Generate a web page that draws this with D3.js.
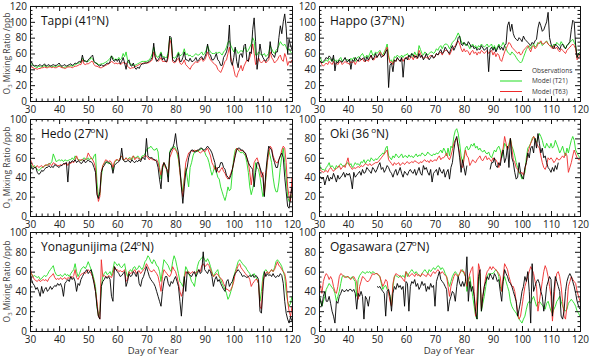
<!DOCTYPE html>
<html>
<head>
<meta charset="utf-8">
<script src="https://cdn.jsdelivr.net/npm/d3@7"></script>
<style>
body{margin:0;background:#fff;}
text{font-family:"Open Sans",sans-serif;}
</style>
</head>
<body>
<script>
// day of year, every half day from 30 to 120
var days = d3.range(30, 120.5, 0.5);
var xTicks = [30,40,50,60,70,80,90,100,110,120];
var yTicks120 = [0,20,40,60,80,100,120];
var yTicks100 = [0,20,40,60,80,100];

var stations = ["Tappi","Happo","Hedo","Oki","Yonagunijima","Ogasawara"];
var lats = ["41","37","27","36 ","24","27"];
var yMax = [120,120,100,100,100,100];
var seriesNames = ["Observations","Model (T21)","Model (T63)"];

var tappiObs = [
52,49,46,44,45,44,45,46,44,45,47,44,45,46,44,45,46,45,45,46,
48,45,44,45,46,44,45,46,47,45,46,48,47,49,50,49,58,50,51,49,
52,54,56,58,50,48,47,45,44,46,44,45,46,48,47,50,57,52,50,53,
50,53,47,50,55,48,40,50,52,45,44,48,42,40,43,41,45,47,47,48,
48,49,50,52,55,73,55,50,52,55,60,52,55,50,50,60,82,80,52,50,
50,55,60,50,50,55,62,52,52,50,54,50,50,52,55,50,52,55,56,52,
55,60,72,60,58,52,52,55,60,52,50,45,45,55,58,62,70,96,50,45,
55,68,50,42,58,60,55,70,72,52,50,62,60,90,105,75,40,55,72,60,
55,52,50,54,55,75,60,58,55,62,62,80,95,85,100,110,92,60,78,70,
65];
var tappiT21 = [
46,47,45,44,43,42,44,43,43,44,45,43,43,44,44,43,44,43,44,44,
45,44,43,42,43,43,44,44,45,44,45,46,47,48,48,49,54,52,50,50,
50,52,55,53,50,48,48,46,46,47,47,48,49,50,52,54,57,55,52,53,
52,55,52,54,60,56,62,52,48,47,46,45,45,46,47,48,49,50,50,50,
50,51,52,55,60,68,60,56,55,58,62,56,56,55,55,62,80,78,56,54,
55,58,62,57,58,60,66,58,60,57,58,56,56,58,60,58,58,60,62,58,
60,64,70,65,62,60,60,60,62,60,62,60,58,62,64,68,74,76,70,66,
62,66,64,60,62,64,62,66,68,62,64,68,72,80,76,58,58,62,60,58,
58,60,56,58,60,70,66,62,60,64,66,70,75,72,70,72,68,64,66,62,
60];
var tappiT63 = [
44,43,42,41,41,40,41,41,42,42,43,42,42,43,43,42,43,42,42,43,
44,43,42,42,41,42,43,43,43,42,43,44,44,45,46,46,52,47,46,47,
47,48,50,50,46,44,44,43,42,42,43,44,45,46,47,48,50,49,47,48,
47,48,46,47,49,47,48,44,42,41,42,42,43,44,45,46,47,47,48,48,
48,48,49,50,52,62,56,52,50,52,55,50,50,50,49,55,78,72,50,48,
49,52,54,48,46,48,52,46,44,42,40,44,46,48,50,48,50,52,54,50,
52,56,62,56,52,50,48,46,45,40,38,36,40,45,50,52,60,68,55,48,
40,32,30,36,40,45,38,44,48,52,50,55,62,72,60,46,48,55,50,48,
50,52,48,50,52,62,55,52,48,50,52,56,58,52,50,60,55,45,50,48,
52];

var happoObs = [
52,50,48,50,52,55,53,57,55,50,58,38,50,48,52,50,49,52,55,50,
50,53,40,52,50,55,52,50,55,52,53,55,50,56,52,55,58,52,55,60,
55,58,60,55,57,58,62,65,17,45,48,37,52,50,55,52,50,55,30,52,
55,52,58,55,60,58,55,57,54,60,55,58,52,55,60,55,52,55,58,54,
56,60,58,62,65,60,62,68,65,62,60,66,70,64,68,72,80,82,72,70,
74,72,70,75,72,68,70,66,68,64,66,65,70,67,64,66,68,37,65,68,
64,68,62,66,70,65,68,64,70,72,95,100,88,97,85,80,78,76,80,78,
75,82,78,76,74,72,70,74,72,76,78,92,100,95,88,90,95,100,112,80,
72,68,66,72,70,68,65,70,72,68,66,70,72,75,90,102,100,70,55,60,
58];
var happoT21 = [
58,54,50,48,50,52,50,54,52,50,54,50,52,50,53,55,50,52,54,52,
52,50,54,52,55,50,54,56,55,58,60,56,55,58,55,60,64,58,58,62,
60,62,64,60,58,62,66,72,58,50,52,48,56,55,58,56,55,58,55,58,
58,60,56,58,60,56,62,58,58,70,65,60,58,62,60,58,60,62,62,60,
62,66,64,68,70,66,70,72,72,70,66,70,74,76,78,82,86,82,76,72,
74,70,72,70,66,70,72,68,70,66,70,68,72,70,68,70,72,68,70,72,
66,70,64,68,72,68,70,74,70,66,62,60,58,62,60,58,55,52,50,48,
50,55,60,65,68,70,66,70,72,68,70,74,72,75,70,72,74,76,72,70,
70,68,72,70,74,72,70,75,72,70,66,70,72,74,76,78,74,70,55,60,
62];
var happoT63 = [
52,50,46,44,46,48,46,50,48,46,50,46,48,46,49,50,46,48,50,48,
48,46,50,48,50,46,50,52,50,52,54,50,50,52,50,54,58,52,52,56,
55,58,62,60,56,58,64,68,55,48,50,46,52,50,54,52,50,54,50,54,
54,56,52,54,56,52,58,54,54,64,60,55,54,56,55,54,56,58,56,55,
56,60,58,60,62,58,62,64,64,62,58,62,66,68,70,74,76,72,66,62,
66,62,64,62,58,62,64,60,62,58,62,60,64,62,60,62,64,60,62,64,
58,62,56,60,58,52,50,56,62,66,70,74,72,68,66,64,62,60,62,58,
60,64,66,68,70,66,62,68,70,66,68,72,74,76,72,72,74,75,72,70,
68,66,70,66,68,64,62,66,64,62,60,64,66,68,70,72,70,66,52,55,
58];

var hedoObs = [
55,50,48,50,50,45,43,44,47,46,48,50,50,52,50,51,50,53,52,51,
50,52,52,54,54,55,35,56,55,57,56,58,55,57,56,54,55,58,55,56,
58,56,56,54,50,45,22,18,25,45,50,52,55,56,55,54,52,44,52,54,
55,56,58,70,58,56,56,57,57,55,58,56,55,57,56,58,56,60,60,58,
80,62,60,60,60,58,58,56,50,38,28,50,55,52,48,35,65,68,70,75,
85,72,65,50,30,13,30,45,50,60,65,68,68,66,66,68,68,70,70,68,
68,70,72,70,68,65,60,55,45,50,50,55,55,50,48,42,40,38,42,48,
55,62,68,70,70,68,68,66,65,60,55,52,50,48,30,45,55,55,50,45,
42,20,45,60,72,70,68,60,55,50,50,58,62,65,60,40,25,10,8,20,
30];
var hedoT21 = [
56,52,50,52,50,48,47,48,50,50,52,52,53,54,54,56,64,60,56,57,
58,57,58,56,58,57,57,58,58,60,58,62,60,58,58,57,58,60,59,58,
60,58,60,58,62,64,35,20,22,40,52,54,56,55,54,55,53,47,55,57,
58,57,60,62,58,58,60,58,60,60,58,62,60,60,62,60,58,62,62,64,
68,70,70,72,70,68,68,70,66,50,38,48,55,52,48,40,66,70,70,72,
70,65,58,45,35,25,38,50,40,30,50,55,62,66,68,66,68,68,70,68,
66,62,60,55,48,42,46,52,46,40,38,30,25,20,16,22,30,26,28,45,
60,68,70,68,66,65,66,64,62,55,45,30,22,28,35,55,50,48,40,30,
20,25,38,55,68,62,55,40,30,25,25,35,50,62,70,55,40,20,15,18,
22];
var hedoT63 = [
60,55,52,50,50,52,50,51,52,50,52,53,52,54,53,52,55,54,53,52,
52,53,52,54,53,55,52,55,54,56,55,58,62,58,57,58,58,57,58,60,
65,62,60,58,55,50,25,15,20,45,52,55,58,57,56,57,55,50,56,58,
58,57,60,62,58,58,60,58,59,58,60,62,58,60,60,59,58,60,61,62,
62,60,58,60,58,58,57,58,55,48,42,52,55,50,48,44,60,64,68,70,
68,66,62,45,30,20,38,55,60,65,66,68,66,68,67,68,66,65,66,68,
66,68,70,66,62,55,52,48,50,46,45,48,50,46,44,40,38,40,44,48,
55,64,70,68,68,67,68,66,64,60,55,45,32,45,55,58,60,55,48,40,
45,22,40,55,65,72,70,62,58,55,55,58,62,68,72,70,55,30,20,15,
40];

var okiObs = [
42,40,38,40,32,38,42,36,40,38,44,40,35,42,38,40,42,45,40,44,
42,44,38,28,45,40,42,44,46,42,48,44,45,50,48,46,44,50,48,45,
48,52,55,48,50,45,48,52,50,46,44,40,45,48,42,46,50,44,40,46,
44,42,46,48,45,44,48,42,46,50,44,42,52,48,50,45,42,48,35,44,
46,48,42,50,46,44,48,40,45,48,38,50,55,68,78,82,72,60,45,58,
50,42,52,null,null,null,null,null,null,null,null,null,null,null,null,null,null,null,48,55,
55,60,52,50,55,52,62,68,55,60,72,50,80,60,55,45,38,40,55,45,
40,38,50,55,65,60,70,72,65,80,70,85,75,65,70,60,62,55,50,48,
45,50,46,52,48,55,null,null,null,null,null,null,null,null,null,null,null,null,null,null,
null];
var okiT21 = [
56,50,48,48,47,50,52,55,50,52,50,48,52,50,52,54,52,51,53,54,
55,52,54,50,52,55,53,54,52,56,55,58,54,57,58,56,60,58,57,59,
58,60,62,63,65,64,70,72,62,60,58,62,60,64,62,60,62,64,60,62,
62,60,63,61,62,60,62,64,61,63,62,65,64,62,63,66,64,63,62,64,
63,65,64,66,68,65,70,67,62,70,62,72,70,82,88,90,85,75,62,55,
62,70,72,68,70,74,72,75,70,72,68,70,67,66,68,65,64,66,62,60,
64,68,66,70,72,68,60,65,75,72,70,74,80,72,68,62,55,50,45,42,
38,42,45,60,70,72,75,80,82,78,76,80,85,82,78,72,70,75,72,70,
75,70,72,78,74,70,65,68,72,66,62,70,65,72,78,82,78,68,65,62,
60];
var okiT63 = [
50,47,46,45,46,47,45,48,50,48,46,48,49,50,52,48,50,52,50,55,
60,52,50,48,50,49,50,51,50,52,51,52,54,53,52,54,52,53,54,55,
55,56,58,60,62,64,66,68,58,56,54,52,55,53,54,55,52,54,55,53,
55,56,54,55,56,55,57,56,55,54,56,55,57,58,56,57,55,58,56,57,
58,57,60,62,58,60,60,62,65,60,58,62,68,75,78,80,72,65,52,50,
58,68,62,60,52,55,58,56,55,58,60,62,58,57,60,62,58,60,58,56,
60,58,58,55,50,56,65,70,82,75,68,72,80,70,58,55,50,48,45,44,
45,42,48,55,65,70,75,78,82,80,75,72,70,62,55,50,48,52,60,58,
60,58,55,57,60,58,58,60,62,60,65,62,45,50,55,62,68,64,60,58,
58];

var yonaObs = [
60,52,48,46,42,44,40,35,45,38,42,44,40,42,45,42,44,46,45,48,
46,48,44,35,48,50,52,50,55,52,54,50,40,48,46,52,55,58,60,62,
58,60,62,55,48,40,25,15,12,45,50,52,55,53,55,52,35,30,65,62,
60,58,55,56,58,60,45,50,58,55,56,60,58,55,60,48,45,52,55,60,
65,60,55,52,50,48,45,40,35,30,25,40,50,55,55,48,45,50,48,52,
55,50,45,30,15,35,55,40,60,58,56,55,58,60,55,58,62,58,60,80,
62,60,58,62,60,55,45,52,55,50,52,48,45,42,40,50,52,45,48,50,
55,58,60,62,60,58,55,56,55,54,55,56,55,57,54,56,55,52,20,18,
40,60,55,58,56,57,55,58,55,54,56,55,58,56,48,30,18,12,8,14,
10];
var yonaT21 = [
60,58,55,56,55,54,55,52,53,55,56,55,57,60,62,64,66,60,57,56,
56,57,55,56,58,56,57,55,58,60,62,68,60,55,58,62,64,65,63,66,
70,66,62,58,52,45,25,15,20,45,55,58,60,57,58,60,56,62,70,68,
66,68,65,64,66,68,60,55,60,62,60,64,65,62,63,66,64,62,65,70,
72,76,74,70,68,72,70,66,65,60,50,62,72,70,68,66,62,60,70,76,
72,65,58,50,48,45,55,65,62,58,55,50,48,45,55,65,70,72,74,75,
72,70,73,70,65,60,55,58,60,62,55,52,48,45,42,38,32,35,40,45,
55,60,65,70,72,70,68,66,65,62,60,58,55,56,58,55,52,48,30,40,
55,60,62,60,58,60,62,60,64,70,72,70,68,65,60,55,40,30,25,28,
35];
var yonaT63 = [
65,58,55,52,51,50,52,50,51,52,51,52,50,53,55,56,58,54,52,53,
52,54,52,53,54,52,54,53,55,54,56,62,54,52,55,57,58,59,58,60,
62,60,58,55,50,40,30,15,12,72,55,56,55,54,56,55,54,58,65,62,
62,60,61,60,60,62,50,52,60,58,59,60,62,58,60,61,58,60,62,64,
68,65,62,60,60,62,60,58,55,48,40,55,62,60,58,56,55,58,65,62,
60,55,48,40,35,40,52,60,58,60,58,59,60,58,59,60,62,60,66,68,
65,66,68,66,62,58,55,56,58,57,55,53,52,48,45,42,42,40,42,45,
50,58,62,66,68,64,62,60,58,56,55,52,45,48,50,52,52,48,25,22,
50,55,58,60,58,60,62,60,62,66,70,66,65,62,60,58,50,30,20,15,
25];

var ogaObs = [
35,32,25,35,40,30,30,35,28,20,15,8,30,28,35,38,42,40,40,42,
40,42,42,40,42,38,22,38,35,40,35,12,35,32,25,35,null,null,null,null,
45,44,45,42,40,38,15,40,42,35,20,38,45,42,48,44,46,42,45,25,
50,48,20,45,50,48,52,45,48,42,45,50,46,48,40,45,42,48,44,46,
25,50,55,60,52,50,48,45,42,20,30,35,40,38,30,45,55,48,45,50,
45,50,75,30,50,40,45,35,20,12,55,62,20,35,45,50,55,52,58,55,
52,58,55,50,52,40,30,50,62,58,55,50,48,45,40,35,30,15,22,30,
40,45,55,50,60,40,8,68,40,45,50,52,48,40,35,20,30,45,50,55,
52,15,40,55,50,45,40,15,12,20,40,50,55,58,55,50,45,38,30,25,
22];
var ogaT21 = [
40,30,25,30,35,42,45,48,46,44,42,38,30,35,40,48,55,56,55,54,
55,54,53,55,52,50,35,52,56,58,60,59,58,60,59,60,58,60,59,58,
58,56,55,48,42,45,46,42,40,35,25,45,55,56,55,54,56,55,56,54,
60,55,58,60,62,60,58,60,58,56,55,58,60,62,60,58,62,60,62,64,
62,64,66,65,62,64,62,58,55,50,45,50,55,58,60,58,55,58,60,62,
58,55,40,50,55,45,35,25,15,12,50,58,20,28,35,45,55,58,57,58,
58,60,62,60,55,45,40,50,55,50,45,40,30,25,22,20,18,15,12,10,
8,12,15,22,28,30,28,32,35,30,25,28,30,28,26,24,22,28,30,25,
20,18,22,25,30,32,35,30,25,22,20,22,28,30,32,30,28,25,20,18,
15];
var ogaT63 = [
50,45,38,50,55,58,56,52,55,52,45,40,38,45,55,58,57,55,54,55,
55,53,52,54,55,52,50,32,45,50,55,54,52,50,50,52,55,58,57,58,
58,57,55,50,45,48,52,50,38,30,25,48,55,58,57,56,55,54,52,50,
60,58,55,56,58,57,55,58,56,57,55,58,57,56,55,58,57,55,58,60,
58,60,62,60,58,60,58,56,55,45,35,45,50,55,58,56,55,58,62,60,
60,55,45,52,58,62,65,40,15,35,68,62,22,35,45,55,60,62,65,62,
65,63,62,60,58,55,40,55,68,65,62,55,50,45,45,40,30,20,12,15,
25,35,45,50,55,60,65,62,58,50,45,20,30,40,50,60,66,62,55,45,
35,10,30,50,58,60,55,45,30,15,12,25,45,50,55,52,50,48,40,35,
30];

var obsData = [tappiObs, happoObs, hedoObs, okiObs, yonaObs, ogaObs];
var t21Data = [tappiT21, happoT21, hedoT21, okiT21, yonaT21, ogaT21];
var t63Data = [tappiT63, happoT63, hedoT63, okiT63, yonaT63, ogaT63];

var colors = {obs: "#000000", t21: "#22dd22", t63: "#ee2a2a"};

var svg = d3.select("body")
    .append("svg")
    .attr("width", 594)
    .attr("height", 359)
    .style("display", "block");

// panel boxes
var cols = [{left: 30, width: 262}, {left: 319, width: 261}];
var rows = [{top: 6, height: 95}, {top: 119, height: 97}, {top: 232, height: 99}];

stations.forEach(function(name, i) {
    var c = cols[i % 2], r = rows[Math.floor(i / 2)];
    var w = c.width, h = r.height;
    var g = svg.append("g").attr("transform", "translate(" + c.left + "," + r.top + ")");

    var x = d3.scaleLinear().domain([30, 120]).range([0, w]);
    var y = d3.scaleLinear().domain([0, yMax[i]]).range([h, 0]);
    var yTicks = yMax[i] === 120 ? yTicks120 : yTicks100;
    var xMinor = d3.range(30, 121, 2).filter(function(d) { return d % 10 !== 0; });
    var yMinor = d3.range(0, yMax[i] + 1, 5).filter(function(d) { return d % 20 !== 0; });

    g.append("clipPath").attr("id", "clip" + i)
        .append("rect").attr("width", w).attr("height", h);

    var line = d3.line()
        .defined(function(d) { return d[1] != null; })
        .x(function(d) { return x(d[0]); })
        .y(function(d) { return y(d[1]); });

    [[t21Data[i], colors.t21], [t63Data[i], colors.t63], [obsData[i], colors.obs]].forEach(function(s) {
        var pts = days.map(function(d, k) { return [d, s[0][k]]; });
        g.append("path")
            .datum(pts)
            .attr("clip-path", "url(#clip" + i + ")")
            .attr("fill", "none")
            .attr("stroke", s[1])
            .attr("stroke-width", 0.9)
            .attr("stroke-linejoin", "round")
            .attr("d", line);
    });

    // axes, ticks pointing inward on all four sides
    function axisPart(axis, tr, labels) {
        var a = g.append("g").attr("transform", tr).call(axis);
        a.select(".domain").remove();
        a.selectAll("line").attr("stroke", "#111");
        a.selectAll("text").attr("fill", "#222").style("font-size", "10px");
        if (!labels) a.selectAll("text").remove();
        return a;
    }
    axisPart(d3.axisBottom(x).tickValues(xTicks).tickSize(-5).tickPadding(5), "translate(0," + h + ")", true);
    axisPart(d3.axisBottom(x).tickValues(xMinor).tickSize(-2.5), "translate(0," + h + ")", false);
    axisPart(d3.axisTop(x).tickValues(xTicks).tickSize(-5), "", false);
    axisPart(d3.axisTop(x).tickValues(xMinor).tickSize(-2.5), "", false);
    axisPart(d3.axisLeft(y).tickValues(yTicks).tickSize(-5).tickPadding(3), "", true);
    axisPart(d3.axisLeft(y).tickValues(yMinor).tickSize(-2.5), "", false);
    axisPart(d3.axisRight(y).tickValues(yTicks).tickSize(-5), "translate(" + w + ",0)", false);
    axisPart(d3.axisRight(y).tickValues(yMinor).tickSize(-2.5), "translate(" + w + ",0)", false);

    g.append("rect")
        .attr("x", 0.5).attr("y", 0.5)
        .attr("width", w).attr("height", h)
        .attr("fill", "none").attr("stroke", "#111").attr("stroke-width", 1);

    // station title
    var t = g.append("text").attr("x", 11).attr("y", 18.5)
        .style("font-size", "12px").attr("fill", "#111");
    t.append("tspan").text(name + " (" + lats[i]);
    t.append("tspan").attr("dy", -5).attr("dx", -1).style("font-size", "8px").text("o");
    t.append("tspan").attr("dy", 5).text("N)");

    if (i % 2 === 0) {
        var yl = svg.append("text")
            .attr("transform", "translate(10," + (r.top + h / 2) + ") rotate(-90)")
            .attr("text-anchor", "middle")
            .attr("fill", "#444")
            .style("font-size", "8.5px");
        yl.append("tspan").text("O");
        yl.append("tspan").attr("dy", 2).style("font-size", "6px").text("3");
        yl.append("tspan").attr("dy", -2).text(" Mixing Ratio /ppb");
    }
    if (i >= 4) {
        svg.append("text")
            .attr("x", i === 4 ? 153 : 449).attr("y", 354)
            .attr("text-anchor", "middle")
            .attr("fill", "#333")
            .style("font-size", "9.5px")
            .text("Day of Year");
    }
    if (i === 1) {
        var lg = g.append("g");
        [colors.obs, colors.t21, colors.t63].forEach(function(col, k) {
            var ly = 64.5 + k * 10.5;
            lg.append("line").attr("x1", 181).attr("x2", 203)
                .attr("y1", ly).attr("y2", ly)
                .attr("stroke", col).attr("stroke-width", 1);
            lg.append("text").attr("x", 213).attr("y", ly + 2.3)
                .attr("fill", "#333").style("font-size", "6.5px")
                .text(seriesNames[k]);
        });
    }
});
</script>
</body>
</html>
